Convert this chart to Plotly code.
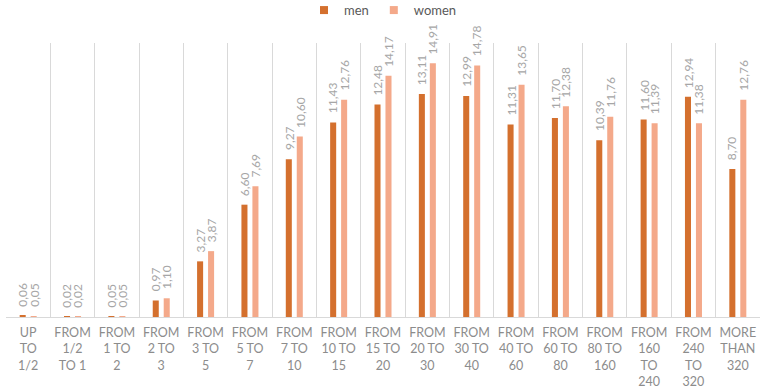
import plotly.graph_objects as go

categories = ["UP<br>TO<br>1/2", "FROM<br>1/2<br>TO 1", "FROM<br>1 TO<br>2", "FROM<br>2 TO<br>3",
              "FROM<br>3 TO<br>5", "FROM<br>5 TO<br>7", "FROM<br>7 TO<br>10", "FROM<br>10 TO<br>15",
              "FROM<br>15 TO<br>20", "FROM<br>20 TO<br>30", "FROM<br>30 TO<br>40", "FROM<br>40 TO<br>60",
              "FROM<br>60 TO<br>80", "FROM<br>80 TO<br>160", "FROM<br>160<br>TO<br>240",
              "FROM<br>240<br>TO<br>320", "MORE<br>THAN<br>320"]
men = [0.06, 0.02, 0.05, 0.97, 3.27, 6.60, 9.27, 11.43, 12.48, 13.11, 12.99, 11.31, 11.70, 10.39, 11.60, 12.94, 8.70]
women = [0.05, 0.02, 0.05, 1.10, 3.87, 7.69, 10.60, 12.76, 14.17, 14.91, 14.78, 13.65, 12.38, 11.76, 11.39, 11.38, 12.76]
series_names = ["men", "women"]

MEN_C = "#D4702E"
WOMEN_C = "#F4A98A"
LABEL_C = "#A6A6A6"
FONT = "Lato"
BARGAP = 0.505

def fmt(v):
    return f"{v:.2f}".replace(".", ",")

fig = go.Figure()
for name, vals, col in ((series_names[0], men, MEN_C), (series_names[1], women, WOMEN_C)):
    fig.add_trace(go.Bar(name=name, x=categories, y=vals, marker_color=col, marker_line_width=0,
                         legendgroup=name, showlegend=False))
# legend swatches (small squares like the original)
for name, col in ((series_names[0], MEN_C), (series_names[1], WOMEN_C)):
    fig.add_trace(go.Scatter(name=name, x=[None], y=[None], mode="markers", legendgroup=name,
                             marker=dict(symbol="square", size=8, color=col), showlegend=True))

off = (1 - BARGAP) / 4
for series, sign in ((men, -1), (women, 1)):
    for i, v in enumerate(series):
        fig.add_annotation(x=i + sign * off, y=v, text=fmt(v), textangle=-90,
                           showarrow=False, xanchor="center", yanchor="bottom", yshift=7,
                           font=dict(family=FONT, size=12, color=LABEL_C))

fig.update_layout(
    width=760, height=392,
    margin=dict(l=6, r=0, t=43, b=75, autoexpand=False),
    plot_bgcolor="white", paper_bgcolor="white",
    barmode="group", bargap=BARGAP, bargroupgap=0.45,
    font=dict(family=FONT, color="#8C8C8C"),
    showlegend=True,
    legend=dict(orientation="h", x=0.5, xanchor="center", y=1.12, yanchor="middle",
                font=dict(size=13, color="#595959"), itemwidth=30, traceorder="normal"),
    xaxis=dict(type="category", tickson="boundaries", showgrid=True, gridcolor="#D9D9D9", gridwidth=1,
               showline=True, linecolor="#D9D9D9", linewidth=1, ticks="", ticklabelstandoff=4,
               automargin=False,
               tickfont=dict(family=FONT, size=12.5, color="#8C8C8C"), tickangle=0),
    yaxis=dict(range=[0, 16.1], visible=False, showgrid=False, zeroline=False, automargin=False),
)

fig.write_html("out.html")
